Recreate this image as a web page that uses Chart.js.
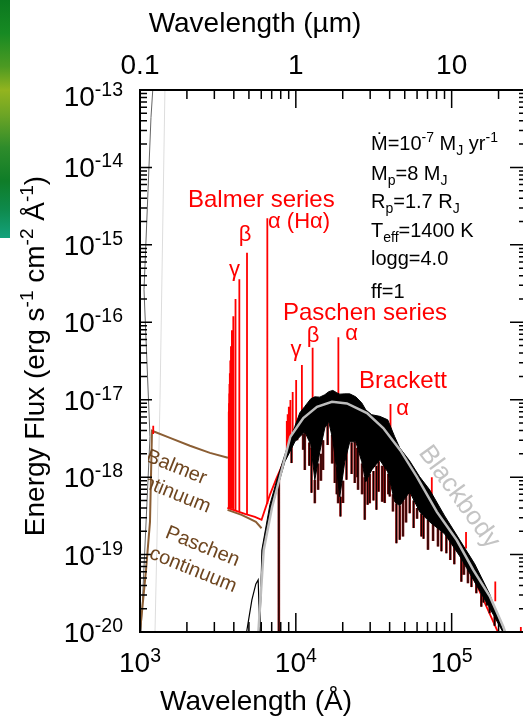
<!DOCTYPE html>
<html>
<head>
<meta charset="utf-8">
<title>Spectral energy distribution</title>
<script src="https://cdn.jsdelivr.net/npm/chart.js"></script>
<style>
  html, body { margin: 0; padding: 0; background: #fff; overflow: hidden; }
  #wrap { position: relative; width: 523px; height: 718px; overflow: hidden; }
  #sed { position: absolute; left: 0; top: 0; }
  #bar {
    position: absolute; left: 0; top: 0; width: 10px; height: 238px;
    background: linear-gradient(to bottom, #0b781f 0%, #178a23 14%, #4d9a22 28%, #93b41f 38%, #6ea525 48%,
      #2e8c2b 62%, #0f7d28 76%, #0e8a4c 88%, #14a27c 100%);
  }
</style>
</head>
<body>
<div id="wrap">
  <canvas id="sed" width="540" height="718"></canvas>
  <div id="bar"></div>
</div>
<script>
  const FONT = '"Liberation Sans", Arial, Helvetica, sans-serif';

  // black model spectrum: upper envelope and bottom of the dense part
  const blackWave = [5877, 6053, 6813, 7553, 8502, 9152, 9854, 10607, 11420, 12480, 13240, 14250, 15345, 16270,
    17270, 18320, 19148, 20614, 22192, 24250, 26490, 28110, 30710, 34556, 38880, 43111, 46416, 53800, 62360,
    72275, 90190, 112550, 140450, 175200, 213200, 221900];
  const blackTop = [1.0e-20, 1.15e-19, 4.38e-19, 9.2e-19, 1.94e-18, 3.04e-18, 4.51e-18, 6.78e-18, 8.18e-18,
    1.03e-17, 1.09e-17, 1.08e-17, 1.16e-17, 1.27e-17, 1.32e-17, 1.23e-17, 1.18e-17, 1.19e-17, 1.19e-17,
    1.09e-17, 9.1e-18, 7.4e-18, 6.4e-18, 6.1e-18, 5.5e-18, 3.32e-18, 2.39e-18, 1.62e-18, 1.01e-18, 6.85e-19,
    3.16e-19, 1.55e-19, 7.6e-20, 3.1e-20, 1.06e-20, 7.9e-21];
  const blackBottom = [1.0e-20, 8.5e-20, 3.26e-19, 6.85e-19, 1.58e-18, 2.12e-18, 2.86e-18, 3.32e-18, 3.85e-18,
    2.62e-18, 9.2e-19, 2.12e-18, 4.34e-18, 5.19e-18, 3.04e-18, 1.24e-18, 5.56e-19, 1.58e-18, 2.86e-18,
    2.86e-18, 1.58e-18, 8.7e-19, 1.24e-18, 1.67e-18, 1.17e-18, 4.8e-19, 4.26e-19, 6.46e-19, 3.56e-19,
    2.64e-19, 1.85e-19, 9.6e-20, 4.43e-20, 2.04e-20, 1.0e-20, 7.9e-21];

  // absorption dips below the dense part
  const dipWave = [7780, 9385, 10200, 11140, 11420, 12200, 12606, 13240, 13900, 14500, 14960, 16000, 17100,
    17783, 18300, 18670, 19340, 20100, 21140, 22800, 23885, 24800, 25080, 26600, 27693, 28900, 29817, 31500,
    32910, 34000, 35800, 37200, 39200, 40051, 42000, 44207, 46416, 48730, 51000, 53800, 57000, 60000, 63940,
    66000, 70490, 76000, 81700, 86000, 92480, 98000, 104000, 115400, 120000, 127200, 134000, 144000, 155000,
    160000, 168000, 175200, 188700];
  const dipLow = [5e-21, 1.52e-18, 3.0e-18, 2.25e-18, 1.24e-18, 1.4e-18, 6.27e-19, 4.61e-19, 6.85e-19, 9e-19,
    1.24e-18, 2.6e-18, 1.5e-18, 8.43e-19, 6e-19, 4.61e-19, 3.10e-19, 4.63e-19, 9.23e-19, 1.1e-18, 8.43e-19,
    1.0e-18, 6.85e-19, 6e-19, 2.81e-19, 4.4e-19, 4.61e-19, 5e-19, 3.78e-19, 6.5e-19, 4.8e-19, 4.63e-19, 6e-19,
    5.61e-19, 3.6e-19, 1.40e-19, 1.55e-19, 1.71e-19, 2.6e-19, 3.42e-19, 2.2e-19, 2.9e-19, 1.71e-19, 1.6e-19,
    1.15e-19, 1.5e-19, 1.27e-19, 1.1e-19, 1.04e-19, 8.5e-20, 7.5e-20, 4.47e-20, 5.5e-20, 4.27e-20, 3.8e-20,
    3.17e-20, 2.12e-20, 2.4e-20, 2.2e-20, 1.75e-20, 1.2e-20];
  const dipHigh = [1.0e-18, 2.5e-18, 3.4e-18, 3.6e-18, 3.85e-18, 2.8e-18, 2.4e-18, 9.2e-19, 1.5e-18, 2.0e-18,
    3.0e-18, 5e-18, 3.5e-18, 3.5e-18, 1.3e-18, 1.0e-18, 5.6e-19, 9e-19, 2.2e-18, 2.8e-18, 2.86e-18, 2.4e-18,
    2.2e-18, 1.5e-18, 1.0e-18, 1.0e-18, 1.1e-18, 1.2e-18, 1.4e-18, 1.6e-18, 1.4e-18, 1.4e-18, 1.1e-18, 9e-19,
    6e-19, 4.6e-19, 4.3e-19, 5e-19, 7e-19, 6.5e-19, 5e-19, 4e-19, 3.4e-19, 3.2e-19, 2.8e-19, 2.5e-19, 2.2e-19,
    2.0e-19, 1.8e-19, 1.5e-19, 1.3e-19, 9e-20, 8e-20, 6.5e-20, 5.5e-20, 4.3e-20, 3.3e-20, 3e-20, 2.6e-20,
    2.1e-20, 1.6e-20];

  // faint model wing at short wavelengths
  const tailWave = [4831, 5224, 5541, 5732, 5877];
  const tailFlux = [1e-20, 2.6e-20, 4.18e-20, 4.7e-20, 1e-20];

  // red spectrum: continuum and hydrogen emission lines
  const redWave = [3638, 4711, 5460, 6027, 6813, 7520, 8290, 9152, 11420, 16515, 25720, 40051, 72275, 130470, 221900];
  const redFlux = [4.0e-19, 3.35e-19, 3.07e-19, 2.81e-19, 5.9e-19, 9.7e-19, 1.52e-18, 2.6e-18, 6.0e-18,
    1.0e-17, 7.5e-18, 3.3e-18, 5.5e-19, 6.5e-20, 6e-21];
  const lineWave = [1216, 3712, 3722, 3734, 3750, 3771, 3798, 3835, 3889, 3970, 4102, 4340, 4861, 6563,
    8750, 8863, 9015, 9229, 9546, 10049, 10938, 12818, 18751, 40512, 74578, 123680, 190570, 277960];
  const linePeak = [4.6e-18, 7e-18, 9e-18, 1.2e-17, 1.6e-17, 2.2e-17, 3.2e-17, 4.9e-17, 7.9e-17, 1.2e-16,
    2.0e-16, 3.6e-16, 7.9e-16, 2.2e-15, 5.3e-18, 6.5e-18, 8.1e-18, 9.9e-18, 1.26e-17, 1.8e-17, 2.8e-17,
    4.7e-17, 6.4e-17, 8.8e-18, 1.0e-18, 1.96e-19, 4.5e-20, 1.16e-20];
  const lineBase = [3.6e-18, 3.9e-19, 3.9e-19, 3.9e-19, 3.9e-19, 3.9e-19, 3.9e-19, 3.9e-19, 3.9e-19, 3.8e-19,
    3.7e-19, 3.6e-19, 3.3e-19, 4.5e-19, 1.9e-18, 2.1e-18, 2.4e-18, 2.8e-18, 3.5e-18, 4.5e-18, 6e-18, 8e-18,
    1.0e-17, 4.0e-18, 5.5e-19, 1.2e-19, 2.5e-20, 5e-21];

  // continua (brown)
  const balmerWave = [1000, 1093, 1159, 1194, 1557, 2091, 2810, 3665];
  const balmerFlux = [1e-20, 6.3e-20, 2.64e-19, 3.97e-18, 3.22e-18, 2.54e-18, 2.06e-18, 1.78e-18];
  const paschenWave = [3646, 4486, 5072, 5541, 6027];
  const paschenFlux = [3.78e-19, 3.26e-19, 2.89e-19, 2.64e-19, 2.19e-19];

  // blackbody 1400 K
  const bbWave = [5750, 6219, 7037, 7722, 9219, 11170, 13670, 17070, 21290, 28610, 36390, 46770, 59840, 80400,
    108000, 137900, 176500, 214800, 230200];
  const bbFlux = [1.0e-20, 1.14e-19, 4.09e-19, 8.35e-19, 3.32e-18, 5.78e-18, 8.09e-18, 9.40e-18, 8.96e-18,
    6.71e-18, 4.30e-18, 2.23e-18, 1.01e-18, 3.56e-19, 1.53e-19, 6.28e-20, 2.84e-20, 1.16e-20, 7.8e-21];

  // thin curves along the left edge
  const uvDarkWave = [1015, 1159, 1061, 1176, 1211];
  const uvDarkFlux = [1e-20, 3.32e-18, 2.64e-16, 4.4e-14, 1.1e-13];
  const uvLightWave = [1248, 1344, 1446];
  const uvLightFlux = [1e-20, 1e-17, 1.05e-13];

  // axes
  const xMajor = [1e3, 1e4, 1e5];
  const xMajorExp = ['3', '4', '5'];
  const topLabels = ['0.1', '1', '10'];
  const yMajor = [1e-13, 1e-14, 1e-15, 1e-16, 1e-17, 1e-18, 1e-19, 1e-20];
  const yMajorExp = ['-13', '-14', '-15', '-16', '-17', '-18', '-19', '-20'];

  const pts = (xs, ys) => xs.map((x, i) => ({ x, y: ys[i] }));
  const spikes = (xs, lo, hi) => {
    const out = [];
    xs.forEach((x, i) => out.push({ x, y: lo[i] }, { x, y: hi[i] }, { x, y: null }));
    return out;
  };
  const line = (data, color, width, extra) => Object.assign({
    data, borderColor: color, borderWidth: width, pointRadius: 0, fill: false, tension: 0, spanGaps: false, clip: 0
  }, extra || {});

  function richWidth(ctx, segs) {
    let w = 0;
    segs.forEach(s => { ctx.font = s[1] + 'px ' + FONT; w += ctx.measureText(s[0]).width; });
    return w;
  }
  function drawRich(ctx, segs, x, y) {
    let cx = x;
    segs.forEach(s => {
      ctx.font = s[1] + 'px ' + FONT;
      ctx.fillText(s[0], cx, y - s[2]);
      cx += ctx.measureText(s[0]).width;
    });
  }

  const axesPlugin = {
    id: 'axesPlugin',
    afterDraw(chart) {
      const ctx = chart.ctx;
      const xs = chart.scales.x, ys = chart.scales.y;
      const a = chart.chartArea;
      ctx.save();
      ctx.strokeStyle = '#000';
      ctx.fillStyle = '#000';

      // tick marks
      ctx.lineWidth = 1.5;
      ctx.beginPath();
      for (let e = 3; e <= 5; e++) {
        for (let m = 1; m <= 9; m++) {
          const v = m * Math.pow(10, e);
          if (v > 3e5) break;
          const px = xs.getPixelForValue(v);
          const big = m === 1;
          ctx.moveTo(px, a.bottom); ctx.lineTo(px, a.bottom - (big ? 19 : 10));
          ctx.moveTo(px, a.top); ctx.lineTo(px, a.top + (big ? 18 : 9));
        }
      }
      for (let e = -20; e <= -14; e++) {
        for (let m = 1; m <= 10; m++) {
          const v = m * Math.pow(10, e);
          const py = ys.getPixelForValue(v);
          const big = m === 1 || m === 10;
          ctx.moveTo(a.left, py); ctx.lineTo(a.left + (big ? 12 : 7), py);
          ctx.moveTo(a.right, py); ctx.lineTo(a.right - (big ? 16 : 7), py);
        }
      }
      ctx.stroke();

      // frame
      ctx.lineWidth = 2;
      ctx.strokeRect(a.left, a.top, a.right - a.left, a.bottom - a.top);

      // tick labels
      ctx.textBaseline = 'alphabetic';
      ctx.textAlign = 'left';
      xMajor.forEach((v, i) => {
        const segs = [['10', 28, 0], [xMajorExp[i], 19.5, 10]];
        const w = richWidth(ctx, segs);
        drawRich(ctx, segs, xs.getPixelForValue(v) - w / 2, 672);
        ctx.font = '28px ' + FONT;
        const tw = ctx.measureText(topLabels[i]).width;
        ctx.fillText(topLabels[i], xs.getPixelForValue(v) - tw / 2, 74);
      });
      yMajor.forEach((v, i) => {
        const segs = [['10', 28, 0], [yMajorExp[i], 19.5, 10]];
        const w = richWidth(ctx, segs);
        drawRich(ctx, segs, 123 - w, ys.getPixelForValue(v) + (i === 0 ? 16 : 10));
      });

      // axis titles
      ctx.font = '28px ' + FONT;
      ctx.textAlign = 'center';
      ctx.fillText('Wavelength (\u00b5m)', 255, 32);
      ctx.fillText('Wavelength (\u00c5)', 256, 710);
      ctx.textAlign = 'left';
      const ySegs = [['Energy Flux (erg s', 28, 0], ['-1', 19, 11], [' cm', 28, 0], ['-2', 19, 11],
        [' \u00c5', 28, 0], ['-1', 19, 11], [')', 28, 0]];
      ctx.save();
      ctx.translate(44, 356);
      ctx.rotate(-Math.PI / 2);
      drawRich(ctx, ySegs, -richWidth(ctx, ySegs) / 2, 0);
      ctx.restore();

      // model parameters
      const info = [
        [[['\u1e40=10', 20, 0], ['-7', 14, 8], [' M', 20, 0], ['J', 14, -5], [' yr', 20, 0], ['-1', 14, 8]], 150],
        [[['M', 20, 0], ['p', 14, -5], ['=8 M', 20, 0], ['J', 14, -5]], 180],
        [[['R', 20, 0], ['p', 14, -5], ['=1.7 R', 20, 0], ['J', 14, -5]], 208],
        [[['T', 20, 0], ['eff', 14, -5], ['=1400 K', 20, 0]], 237],
        [[['logg=4.0', 20, 0]], 265],
        [[['ff=1', 20, 0]], 298]
      ];
      info.forEach(r => drawRich(ctx, r[0], 371, r[1]));

      // line series labels
      ctx.fillStyle = '#ff0000';
      ctx.font = '24px ' + FONT;
      ctx.fillText('Balmer series', 188, 207);
      ctx.fillText('Paschen series', 283, 320);
      ctx.fillText('Brackett', 359, 388);
      ctx.font = '22px ' + FONT;
      ctx.fillText('\u03b1 (H\u03b1)', 268, 228);
      ctx.textAlign = 'center';
      [['\u03b2', 245, 241], ['\u03b3', 234.5, 276], ['\u03b3', 296, 356], ['\u03b2', 313, 342],
       ['\u03b1', 351.7, 340], ['\u03b1', 402.5, 415]].forEach(g => ctx.fillText(g[0], g[1], g[2]));

      // continuum labels (brown)
      ctx.save();
      ctx.beginPath();
      ctx.rect(148, a.top, a.right - 148, a.bottom - a.top);
      ctx.clip();
      ctx.fillStyle = '#6e4620';
      ctx.font = '20px ' + FONT;
      ctx.textBaseline = 'middle';
      [['Balmer', 176.3, 467.5], ['continuum', 166.9, 490.7], ['Paschen', 202.5, 546.7], ['continuum', 193, 570]]
        .forEach(t => {
          ctx.save();
          ctx.translate(t[1], t[2]);
          ctx.rotate(22 * Math.PI / 180);
          ctx.fillText(t[0], 0, 0);
          ctx.restore();
        });
      ctx.restore();

      // blackbody label
      ctx.save();
      ctx.fillStyle = '#c4c4c4';
      ctx.font = '26px ' + FONT;
      ctx.textAlign = 'center';
      ctx.textBaseline = 'middle';
      ctx.translate(459, 497);
      ctx.rotate(54 * Math.PI / 180);
      ctx.fillText('Blackbody', 0, 0);
      ctx.restore();

      ctx.restore();
    }
  };

  new Chart(document.getElementById('sed'), {
    type: 'line',
    data: {
      datasets: [
        line(pts(bbWave, bbFlux), '#bdbdbd', 2.5),
        line(spikes(dipWave, dipLow, dipHigh), '#000', 1),
        line(pts(blackWave, blackTop), '#000', 1, { fill: '+1', backgroundColor: '#000' }),
        line(pts(blackWave, blackBottom), '#000', 1),
        line(spikes(dipWave, dipLow, dipHigh), '#8a1414', 2.6),
        line(spikes(lineWave, lineBase, linePeak), '#ff0000', 1.8),
        line(pts(redWave, redFlux), '#ff0000', 1.8),
        line(pts(tailWave, tailFlux), '#000', 1.2),
        line(pts(balmerWave, balmerFlux), '#8b5e34', 2),
        line(pts(paschenWave, paschenFlux), '#8b5e34', 2),
        line(pts(uvDarkWave, uvDarkFlux), '#666', 1),
        line(pts(uvLightWave, uvLightFlux), '#dddddd', 1)
      ]
    },
    options: {
      responsive: false,
      animation: false,
      devicePixelRatio: 1,
      layout: { padding: { left: 140, right: 14, top: 90, bottom: 86 } },
      plugins: { legend: { display: false }, tooltip: { enabled: false } },
      scales: {
        x: { type: 'logarithmic', min: 1000, max: 3e5, display: false },
        y: { type: 'logarithmic', min: 1e-20, max: 1e-13, display: false }
      }
    },
    plugins: [axesPlugin]
  });
</script>
</body>
</html>
